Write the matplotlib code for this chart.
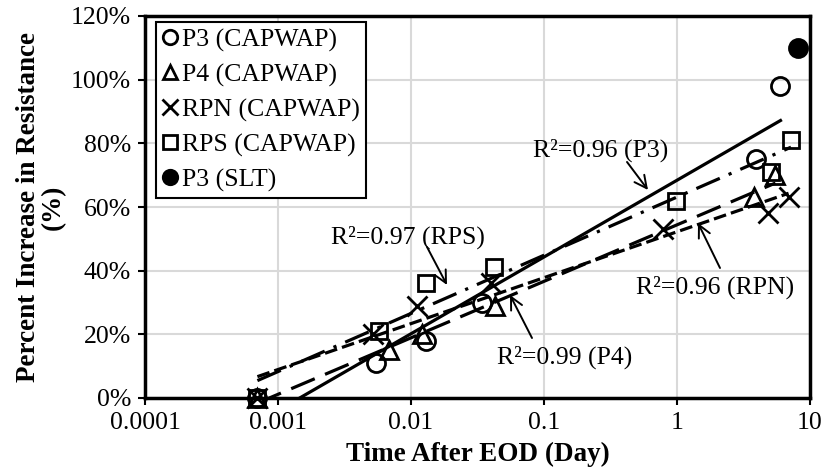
import numpy as np
import matplotlib
matplotlib.use("Agg")
import matplotlib.pyplot as plt
from matplotlib.ticker import FuncFormatter, FixedLocator

plt.rcParams['font.family'] = ['Liberation Serif', 'DejaVu Serif']

# ---- data (days, % increase) ----
p3_x = [0.0007, 0.0055, 0.013, 0.034, 3.9, 6.0]
p3_y = [0, 11, 18, 30, 75, 98]
p4_x = [0.0007, 0.0068, 0.012, 0.043, 3.8, 5.5]
p4_y = [0, 15, 20, 29, 63, 70]
rpn_x = [0.0007, 0.0052, 0.011, 0.040, 0.78, 4.8, 6.9]
rpn_y = [0, 20, 29, 36, 53, 58, 63]
rps_x = [0.0007, 0.0057, 0.013, 0.042, 0.98, 5.1, 7.2]
rps_y = [0, 21, 36, 41, 62, 71, 81]
slt_x = [8.1]
slt_y = [110]

x_ticks = [0.0001, 0.001, 0.01, 0.1, 1, 10]
x_tick_labels = ['0.0001', '0.001', '0.01', '0.1', '1', '10']
y_ticks = [0, 20, 40, 60, 80, 100, 120]

fig = plt.figure(figsize=(8.23, 4.72), dpi=100)
ax = fig.add_axes([145/823, 1 - 398/472, (810-145)/823, (398-16)/472])

FS = 18.5
LFS = 19.5

def trend(xs, ys, **kw):
    lx = np.log10(xs)
    k, b = np.polyfit(lx, ys, 1)
    xx = np.array([min(xs), max(xs)])
    ax.plot(xx, k*np.log10(xx) + b, color='black', lw=2.3, zorder=2, **kw)

trend(p3_x, p3_y, linestyle='-')
trend(p4_x, p4_y, linestyle=(0, (8, 3.5)))
trend(rpn_x, rpn_y, linestyle=(0, (4, 1.6)))
trend(rps_x, rps_y, linestyle=(0, (8, 3, 1, 3)))

mk = dict(linestyle='none', color='black', markeredgewidth=2, zorder=3, clip_on=False)
ax.plot(p3_x, p3_y, marker='o', markersize=13, markerfacecolor='none', label='P3 (CAPWAP)', **mk)
ax.plot(p4_x, p4_y, marker='^', markersize=13, markerfacecolor='none', label='P4 (CAPWAP)', **mk)
ax.plot(rpn_x, rpn_y, marker='x', markersize=14, label='RPN (CAPWAP)', **mk)
ax.plot(rps_x, rps_y, marker='s', markersize=12, markerfacecolor='none', label='RPS (CAPWAP)', **mk)
ax.plot(slt_x, slt_y, marker='o', markersize=13, markerfacecolor='black', label='P3 (SLT)', **mk)

ax.set_xscale('log')
ax.set_xlim(0.0001, 10)
ax.set_ylim(0, 120)
ax.xaxis.set_major_locator(FixedLocator(x_ticks))
ax.set_xticklabels(x_tick_labels)
ax.xaxis.set_minor_locator(FixedLocator([]))
ax.set_yticks(y_ticks)
ax.yaxis.set_major_formatter(FuncFormatter(lambda v, p: f'{v:.0f}%'))
ax.grid(True, color='#d9d9d9', lw=1.5, zorder=0)
ax.set_axisbelow(True)
for s in ax.spines.values():
    s.set_linewidth(2.5)
    s.set_color('black')
ax.tick_params(axis='both', labelsize=FS, width=1.5, length=5, direction='out', colors='black')
ax.tick_params(axis='x', pad=5)
ax.tick_params(axis='y', pad=5)

ax.set_xlabel('Time After EOD (Day)', fontsize=LFS, fontweight='bold', labelpad=5.5)
ax.set_ylabel('Percent Increase in Resistance\n(%)', fontsize=LFS, fontweight='bold', labelpad=4, linespacing=0.95)

leg = ax.legend(loc='upper left', bbox_to_anchor=((156-145)/665, (398-22)/382),
                fontsize=FS, frameon=True, fancybox=False,
                edgecolor='black', handlelength=0.6, handletextpad=0.15,
                borderpad=0.25, labelspacing=0.45, borderaxespad=0, markerscale=0.8)
leg.get_frame().set_linewidth(1.5)
leg.get_frame().set_alpha(1)

def px2data(px, py):
    lx = -4 + (px - 145) / 133.0
    return 10**lx, (398 - py) / 3.183

arrow = dict(arrowstyle='->', color='black', lw=1.4, mutation_scale=22, shrinkA=0, shrinkB=0)
notes = [
    ('R²=0.96 (P3)', (601, 150), (627, 162), (648, 190)),
    ('R²=0.96 (RPN)', (715, 287), (720, 268), (698, 223)),
    ('R²=0.97 (RPS)', (408, 237), (427, 247), (447, 285)),
    ('R²=0.99 (P4)', (565, 357), (532, 338), (510, 295)),
]
for txt, tpos, a0, a1 in notes:
    ax.text(*px2data(*tpos), txt, fontsize=FS, ha='center', va='center', zorder=5)
    ax.annotate('', xy=px2data(*a1), xytext=px2data(*a0), arrowprops=arrow, zorder=5)

fig.savefig('out.png', dpi=100)
